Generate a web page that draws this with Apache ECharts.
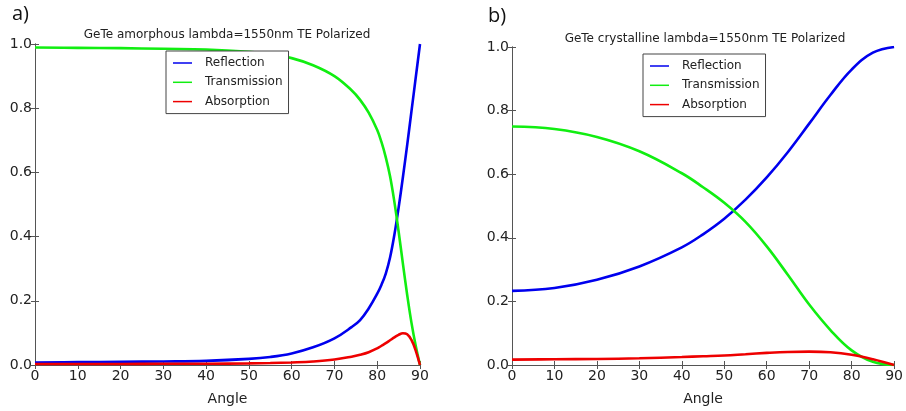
<!DOCTYPE html>
<html>
<head>
<meta charset="utf-8">
<script src="https://cdn.jsdelivr.net/npm/echarts@6/dist/echarts.min.js"></script>
<style>
  html, body { margin: 0; padding: 0; background: #fff; }
  #chart { width: 906px; height: 411px; }
</style>
</head>
<body>
<div id="chart"></div>
<script>
// a) GeTe amorphous
var anglesA = [0, 10, 20, 30, 40, 50, 55, 60, 65, 70, 74, 76, 78, 80, 81, 82, 83, 84, 85, 86, 87, 88, 89, 90]
var reflA   = [0.008, 0.009, 0.010, 0.011, 0.013, 0.019, 0.025, 0.036, 0.055, 0.083, 0.118, 0.140, 0.176, 0.222, 0.25, 0.285, 0.335, 0.405, 0.49, 0.585, 0.685, 0.79, 0.895, 1.0]
var transA  = [0.989, 0.988, 0.987, 0.985, 0.983, 0.976, 0.969, 0.956, 0.934, 0.900, 0.856, 0.826, 0.786, 0.732, 0.694, 0.647, 0.588, 0.509, 0.416, 0.316, 0.219, 0.132, 0.060, 0.0]
var absA    = [0.003, 0.003, 0.003, 0.004, 0.004, 0.005, 0.006, 0.008, 0.011, 0.017, 0.026, 0.032, 0.040, 0.052, 0.060, 0.068, 0.077, 0.086, 0.094, 0.099, 0.096, 0.078, 0.045, 0.0]

// b) GeTe crystalline
var anglesB = [0, 10, 20, 30, 40, 45, 50, 55, 60, 65, 70, 75, 80, 85, 90]
var reflB   = [0.233, 0.242, 0.268, 0.310, 0.370, 0.411, 0.460, 0.520, 0.590, 0.670, 0.759, 0.849, 0.929, 0.982, 1.0]
var transB  = [0.750, 0.742, 0.717, 0.672, 0.603, 0.559, 0.510, 0.450, 0.373, 0.283, 0.190, 0.110, 0.046, 0.010, 0.0]
var absB    = [0.017, 0.018, 0.019, 0.021, 0.025, 0.0275, 0.030, 0.034, 0.038, 0.041, 0.042, 0.040, 0.032, 0.018, 0.0]

var names = ['Reflection', 'Transmission', 'Absorption']
var colors = ['#0000ee', '#11ee11', '#ee0000']
var font = 'DejaVu Sans'

function pairs(xs, ys) {
  return xs.map(function (x, i) { return [x, ys[i]] })
}

function xAx(grid, pos, show) {
  return {
    type: 'value', gridIndex: grid, position: pos, min: 0, max: 90, interval: 10,
    name: show ? 'Angle' : '', nameLocation: 'middle', nameGap: 27,
    nameTextStyle: { fontFamily: font, fontSize: 14, color: '#222' },
    axisLine: { show: true, lineStyle: { color: '#555', width: 1 } },
    axisTick: { show: true, inside: true, length: 4, lineStyle: { color: '#555' } },
    axisLabel: { show: show, margin: 4, fontFamily: font, fontSize: 14, color: '#222' },
    splitLine: { show: false }
  }
}

function yAx(grid, pos, show) {
  return {
    type: 'value', gridIndex: grid, position: pos, min: 0, max: 1, interval: 0.2,
    axisLine: { show: true, lineStyle: { color: '#555', width: 1 } },
    axisTick: { show: true, inside: true, length: 4, lineStyle: { color: '#555' } },
    axisLabel: { show: show, margin: 3, fontFamily: font, fontSize: 14, color: '#222',
      formatter: function (v) { return v.toFixed(1) } },
    splitLine: { show: false }
  }
}

function line(name, color, xi, yi, data) {
  return {
    name: name, type: 'line', xAxisIndex: xi, yAxisIndex: yi,
    data: data, showSymbol: false, smooth: 0.4,
    lineStyle: { color: color, width: 2.6 }, itemStyle: { color: color }
  }
}

function legend(left, top) {
  return {
    data: names, orient: 'vertical', left: left, top: top,
    icon: 'rect', itemWidth: 19, itemHeight: 1.5, itemGap: 5.3,
    padding: [5, 6, 5, 7], borderColor: '#444', borderWidth: 1,
    backgroundColor: '#fff',
    textStyle: { fontFamily: font, fontSize: 12, color: '#222', lineHeight: 14, padding: [0, 0, 0, 8] },
    selectedMode: false
  }
}

var chart = echarts.init(document.getElementById('chart'))
chart.setOption({
  animation: false,
  grid: [
    { left: 35, right: 486, top: 44, bottom: 45 },
    { left: 512, right: 8, top: 47, bottom: 42 }
  ],
  xAxis: [xAx(0, 'bottom', true), xAx(0, 'top', false), xAx(1, 'bottom', true), xAx(1, 'top', false)],
  yAxis: [yAx(0, 'left', true), yAx(0, 'right', false), yAx(1, 'left', true), yAx(1, 'right', false)],
  legend: [legend(166, 51), legend(643, 54)],
  graphic: [
    { type: 'text', left: 12, top: 4, style: { text: 'a)', font: '20px "Open Sans"', fill: '#111' } },
    { type: 'text', left: 488, top: 6, style: { text: 'b)', font: '20px "Open Sans"', fill: '#111' } },
    { type: 'text', x: 227, y: 35, style: { text: 'GeTe amorphous lambda=1550nm TE Polarized',
      font: '12px "DejaVu Sans"', fill: '#222', textAlign: 'center', textVerticalAlign: 'middle' } },
    { type: 'text', x: 705, y: 38.5, style: { text: 'GeTe crystalline lambda=1550nm TE Polarized',
      font: '12px "DejaVu Sans"', fill: '#222', textAlign: 'center', textVerticalAlign: 'middle' } }
  ],
  series: [
    line(names[0], colors[0], 0, 0, pairs(anglesA, reflA)),
    line(names[1], colors[1], 0, 0, pairs(anglesA, transA)),
    line(names[2], colors[2], 0, 0, pairs(anglesA, absA)),
    line(names[0], colors[0], 2, 2, pairs(anglesB, reflB)),
    line(names[1], colors[1], 2, 2, pairs(anglesB, transB)),
    line(names[2], colors[2], 2, 2, pairs(anglesB, absB))
  ]
})
</script>
</body>
</html>
